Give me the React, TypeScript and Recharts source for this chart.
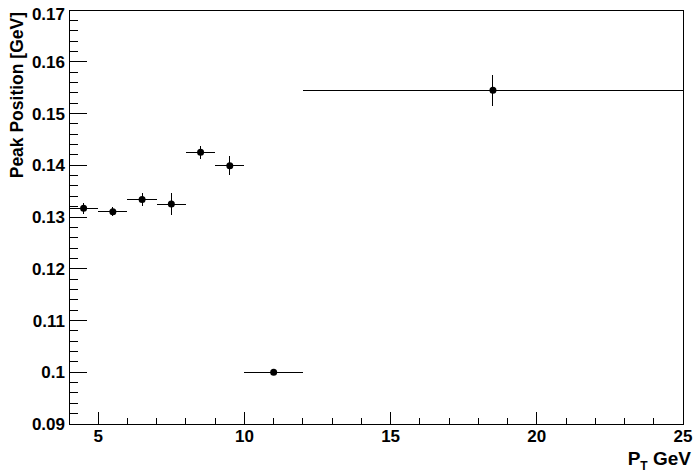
import { ScatterChart, Scatter, XAxis, YAxis, ErrorBar, ReferenceArea } from 'recharts';

// bins in pT (GeV): centre and half width
const ptCenters = [4.5, 5.5, 6.5, 7.5, 8.5, 9.5, 11, 18.5];
const ptHalfWidths = [0.5, 0.5, 0.5, 0.5, 0.5, 0.5, 1, 6.5];
// fitted peak position (GeV) and its error
const peakPositions = [0.1317, 0.131, 0.1334, 0.1325, 0.1425, 0.1399, 0.1, 0.1545];
const peakErrors = [0.0011, 0.0009, 0.0013, 0.0022, 0.0012, 0.0018, 0.0003, 0.003];

const xTicks = [4, 5, 6, 7, 8, 9, 10, 11, 12, 13, 14, 15, 16, 17, 18, 19, 20, 21, 22, 23, 24, 25];
const xMajorTicks = [5, 10, 15, 20, 25];
const yTicks = [
    0.09, 0.092, 0.094, 0.096, 0.098, 0.1, 0.102, 0.104, 0.106, 0.108, 0.11, 0.112, 0.114, 0.116, 0.118,
    0.12, 0.122, 0.124, 0.126, 0.128, 0.13, 0.132, 0.134, 0.136, 0.138, 0.14, 0.142, 0.144, 0.146, 0.148,
    0.15, 0.152, 0.154, 0.156, 0.158, 0.16, 0.162, 0.164, 0.166, 0.168, 0.17
];
const yMajorTicks = [0.09, 0.1, 0.11, 0.12, 0.13, 0.14, 0.15, 0.16, 0.17];
const yMajorLabels = ['0.09', '0.1', '0.11', '0.12', '0.13', '0.14', '0.15', '0.16', '0.17'];

const data = ptCenters.map((pt, i) => ({
    pt,
    peak: peakPositions[i],
    ptErr: ptHalfWidths[i],
    peakErr: peakErrors[i]
}));

const font = '"Liberation Sans", Arial, sans-serif';

function XTick({ x, y, payload }: any) {
    const major = xMajorTicks.includes(payload.value);
    return (
        <g>
            <line x1={x} x2={x} y1={y} y2={y - (major ? 12 : 6)} stroke="#000" shapeRendering="crispEdges" />
            {major && (
                <text x={x} y={y + 18} textAnchor="middle" fontSize={17} fontWeight="bold" fill="#000" fontFamily={font}>
                    {payload.value}
                </text>
            )}
        </g>
    );
}

function YTick({ x, y, payload }: any) {
    const idx = yMajorTicks.findIndex((v) => Math.abs(v - payload.value) < 1e-6);
    const major = idx >= 0;
    // the top label sits a little lower so it stays inside the canvas
    const shift = idx === yMajorTicks.length - 1 ? 4 : 0;
    return (
        <g>
            <line x1={x} x2={x + (major ? 18 : 9)} y1={y} y2={y} stroke="#000" shapeRendering="crispEdges" />
            {major && (
                <text x={x - 4} y={y + shift} dy="0.36em" textAnchor="end" fontSize={17} fontWeight="bold" fill="#000" fontFamily={font}>
                    {yMajorLabels[idx]}
                </text>
            )}
        </g>
    );
}

function Marker({ cx, cy }: any) {
    return <circle cx={cx} cy={cy} r={3.5} fill="#000" />;
}

export default function App() {
    return (
        <div style={{ width: 696, height: 472, background: '#fff' }}>
            <style>{'body{margin:0}'}</style>
            <ScatterChart
                width={696}
                height={472}
                data={data}
                margin={{ top: 10, right: 13, bottom: 0, left: 0 }}
                style={{ fontFamily: font }}
            >
                <XAxis
                    dataKey="pt"
                    type="number"
                    domain={[4, 25]}
                    allowDataOverflow
                    ticks={xTicks}
                    interval={0}
                    height={48}
                    axisLine={false}
                    tickLine={false}
                    tickSize={0}
                    tickMargin={0}
                    tick={(p: any) => <XTick {...p} />}
                    label={{
                        content: ({ viewBox }: any) => (
                            <text
                                x={viewBox.x + viewBox.width + 8}
                                y={viewBox.y + 41}
                                textAnchor="end"
                                fontSize={19}
                                fontWeight="bold"
                                fill="#000"
                                fontFamily={font}
                            >
                                P
                                <tspan fontSize={12} dy={5}>T</tspan>
                                <tspan dy={-5}> GeV</tspan>
                            </text>
                        )
                    }}
                />
                <YAxis
                    dataKey="peak"
                    type="number"
                    domain={[0.09, 0.17]}
                    allowDataOverflow
                    ticks={yTicks}
                    interval={0}
                    width={69}
                    axisLine={false}
                    tickLine={false}
                    tickSize={0}
                    tickMargin={0}
                    tick={(p: any) => <YTick {...p} />}
                    label={{
                        content: () => (
                            <text
                                transform="translate(23, 12) rotate(-90)"
                                textAnchor="end"
                                fontSize={17.5}
                                fontWeight="bold"
                                fill="#000"
                                fontFamily={font}
                            >
                                Peak Position [GeV]
                            </text>
                        )
                    }}
                />
                <ReferenceArea
                    x1={4}
                    x2={25}
                    y1={0.09}
                    y2={0.17}
                    fill="none"
                    stroke="#000"
                    strokeWidth={1}
                    shapeRendering="crispEdges"
                />
                <Scatter dataKey="peak" fill="#000" shape={<Marker />} isAnimationActive={false}>
                    <ErrorBar
                        dataKey="ptErr"
                        direction="x"
                        width={0}
                        stroke="#000"
                        strokeWidth={1}
                        shapeRendering="crispEdges"
                        isAnimationActive={false}
                    />
                    <ErrorBar
                        dataKey="peakErr"
                        direction="y"
                        width={0}
                        stroke="#000"
                        strokeWidth={1}
                        shapeRendering="crispEdges"
                        isAnimationActive={false}
                    />
                </Scatter>
            </ScatterChart>
        </div>
    );
}
